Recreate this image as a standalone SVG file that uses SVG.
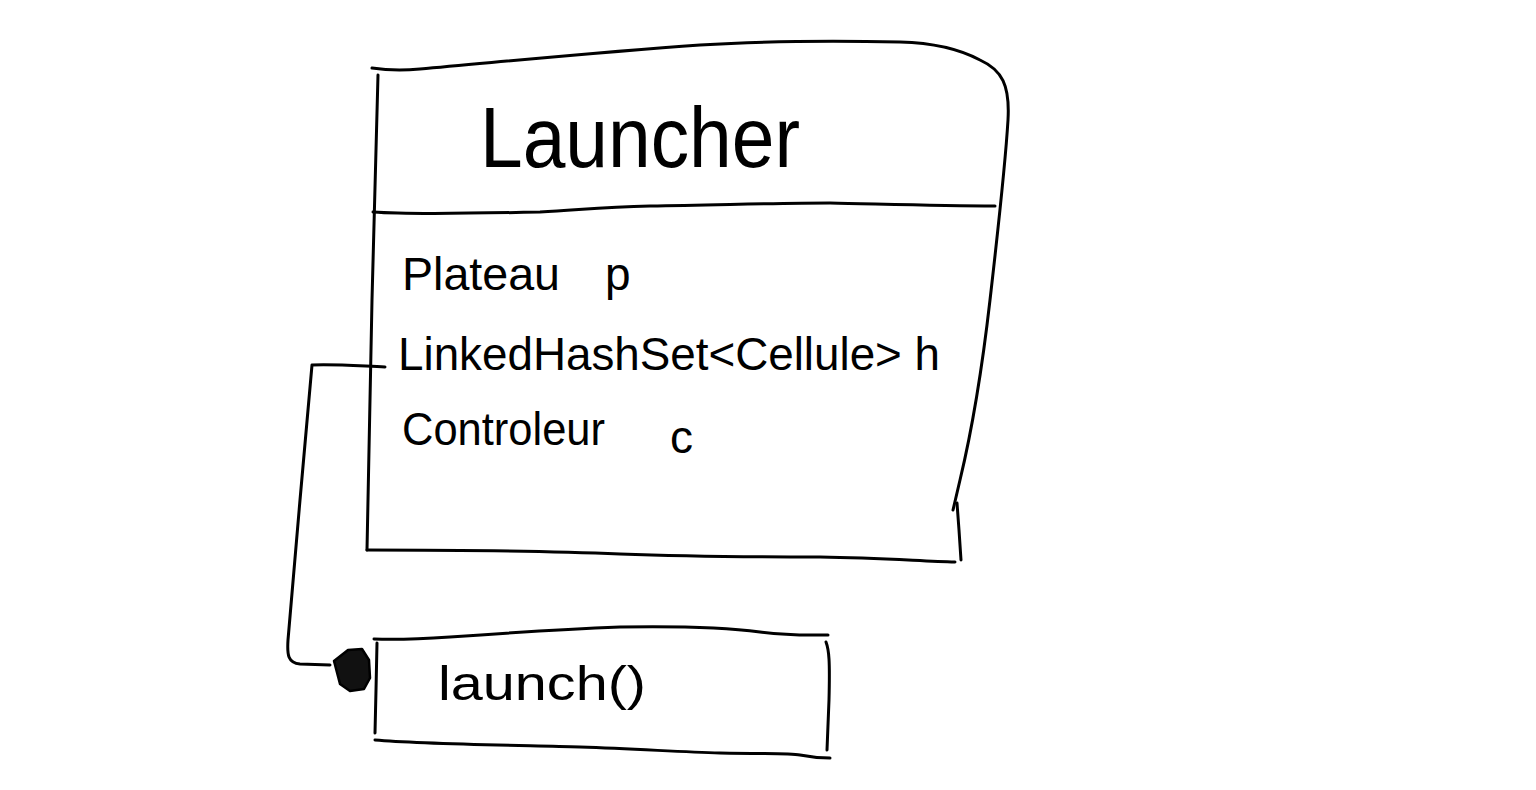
<svg xmlns="http://www.w3.org/2000/svg" width="1536" height="790" viewBox="0 0 1536 790">
<style>
.s{fill:none;stroke:#000;stroke-width:3;stroke-linecap:round;stroke-linejoin:round}
.t{font-family:"Liberation Sans",Arial,sans-serif;fill:#000}
</style>
<rect width="1536" height="790" fill="#fff"/>
<g id="launcher-class">
<path class="s" d="M372,68 C385,70 400,71 420,69 C500,62 600,52 700,45 C780,40 850,41 900,42 C940,43 965,52 980,60 C1002,70 1010,85 1008,120 C1005,170 998,230 990,300 C982,370 972,430 960,480 L953,510"/>
<path class="s" d="M378,75 L372,300 L367,550"/>
<path class="s" d="M373,212 C400,214 450,214 540,212 C580,210 600,207 650,206 C720,205 780,203 830,203 C880,204 940,206 995,206"/>
<path class="s" d="M957,503 L959,530 L961,560"/>
<path class="s" d="M367,550 C450,550 550,551 620,554 C700,557 760,557 820,557 C880,558 920,561 955,562"/>
<text class="t" x="480" y="167" font-size="86" textLength="320" lengthAdjust="spacingAndGlyphs">Launcher</text>
<text class="t" x="402" y="290" font-size="46" textLength="158" lengthAdjust="spacingAndGlyphs">Plateau</text>
<text class="t" x="605" y="290" font-size="46">p</text>
<text class="t" x="398" y="370" font-size="46" textLength="542" lengthAdjust="spacingAndGlyphs">LinkedHashSet&lt;Cellule&gt; h</text>
<text class="t" x="402" y="445" font-size="46" textLength="203" lengthAdjust="spacingAndGlyphs">Controleur</text>
<text class="t" x="670" y="453" font-size="46">c</text>
</g>
<g id="launch-method">
<path class="s" d="M374,639 C400,640 420,639 450,637 C520,632 570,629 620,627 C680,626 730,628 760,632 C790,636 810,635 828,635"/>
<path class="s" d="M377,643 L376,690 L375,733"/>
<path class="s" d="M826,642 C829,650 830,660 829,700 L827,750"/>
<path class="s" d="M375,740 C420,744 500,745 580,747 C640,749 680,752 720,753 C770,754 790,753 800,755 C810,757 820,758 830,758"/>
<text class="t" x="438" y="700" font-size="48" textLength="208" lengthAdjust="spacingAndGlyphs">launch()</text>
</g>
<g id="connectors">
<path class="s" d="M385,367 C360,366 335,364 312,365 L300,500 L288,640 C287,655 288,663 300,664 L330,665"/>
<path d="M334,661 L348,650 L362,649 L369,660 L370,678 L364,689 L350,691 L340,684 Z" fill="#111" stroke="#000" stroke-width="2.5" stroke-linejoin="round"/>
</g>
</svg>
